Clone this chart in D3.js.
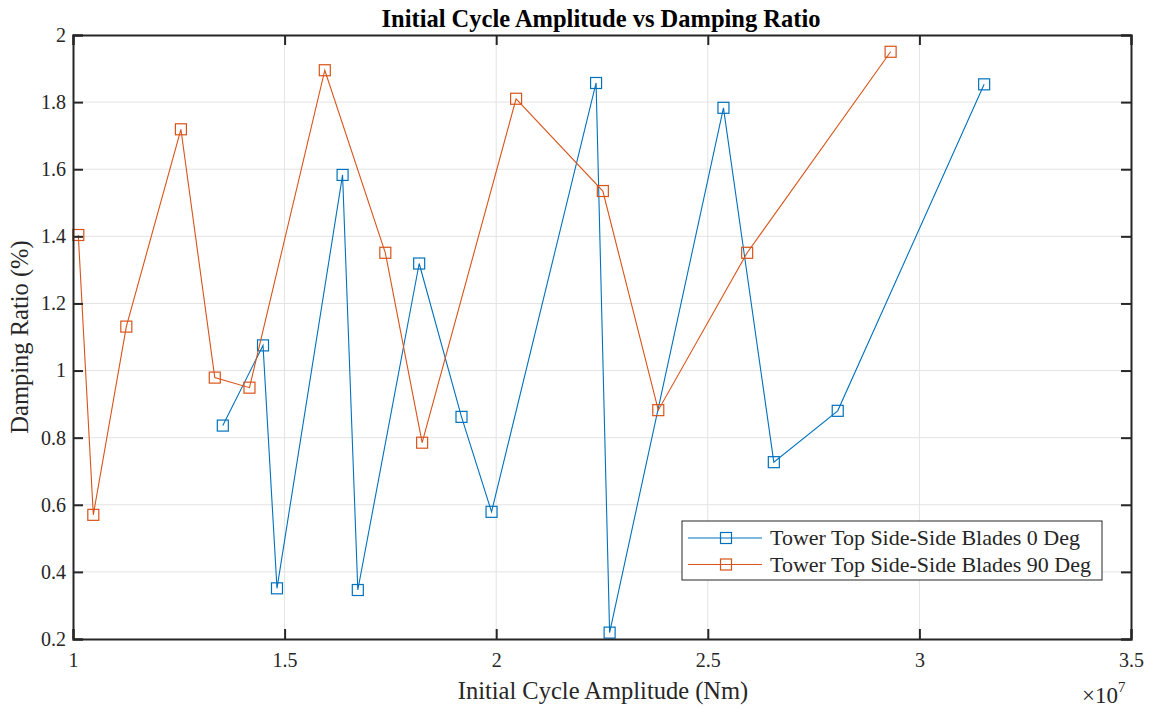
<!DOCTYPE html>
<html><head><meta charset="utf-8">
<script src="https://cdn.jsdelivr.net/npm/d3@7"></script>
<style>body{margin:0;background:#fff}svg{display:block}text{font-family:"Liberation Serif","Times New Roman",serif;fill:#262626}</style>
</head><body>
<script>
// x values in units of 1e7 Nm
const blueX = [1.354,1.449,1.482,1.637,1.673,1.818,1.918,1.989,2.236,2.268,2.537,2.656,2.807,3.153];
const blueY = [0.836,1.075,0.351,1.583,0.346,1.319,0.862,0.579,1.857,0.219,1.783,0.727,0.880,1.853];
const orangeX = [1.0125,1.048,1.126,1.255,1.335,1.417,1.595,1.738,1.825,2.047,2.252,2.383,2.593,2.932];
const orangeY = [1.404,0.570,1.131,1.719,0.979,0.949,1.895,1.351,0.785,1.810,1.535,0.882,1.351,1.950];
const seriesNames = ["Tower Top Side-Side Blades 0 Deg","Tower Top Side-Side Blades 90 Deg"];
const xTicks = [1,1.5,2,2.5,3,3.5];
const yTicks = [0.2,0.4,0.6,0.8,1,1.2,1.4,1.6,1.8,2];
const titleText = "Initial Cycle Amplitude vs Damping Ratio";
const xLabel = "Initial Cycle Amplitude (Nm)";
const yLabel = "Damping Ratio (%)";

const W=1151,H=709;
const L=73,R=1131,T=35,B=639;
const colors=["#0072BD","#D95319"];
const svg=d3.select("body").append("svg").attr("width",W).attr("height",H);
const x=d3.scaleLinear().domain([1,3.5]).range([L,R]);
const y=d3.scaleLinear().domain([0.2,2]).range([B,T]);

// grid
svg.append("g").selectAll("line").data(xTicks.slice(1,-1)).join("line")
 .attr("x1",d=>x(d)).attr("x2",d=>x(d)).attr("y1",T).attr("y2",B)
 .attr("stroke","#e3e3e3").attr("stroke-width",1);
svg.append("g").selectAll("line").data(yTicks.slice(1,-1)).join("line")
 .attr("y1",d=>y(d)).attr("y2",d=>y(d)).attr("x1",L).attr("x2",R)
 .attr("stroke","#e3e3e3").attr("stroke-width",1);

// series
const series=[{xs:blueX,ys:blueY},{xs:orangeX,ys:orangeY}];
const line=d3.line().x(d=>x(d[0])).y(d=>y(d[1]));
series.forEach((s,i)=>{
  const pts=s.xs.map((v,j)=>[v,s.ys[j]]);
  svg.append("path").attr("d",line(pts)).attr("fill","none").attr("stroke",colors[i]).attr("stroke-width",1.1);
  svg.append("g").selectAll("rect").data(pts).join("rect")
   .attr("x",d=>x(d[0])-5.5).attr("y",d=>y(d[1])-5.5).attr("width",11).attr("height",11)
   .attr("fill","none").attr("stroke",colors[i]).attr("stroke-width",1.2);
});

// axes
const ax=svg.append("g");
ax.append("g").attr("transform",`translate(0,${B})`).call(d3.axisBottom(x).tickValues(xTicks).tickSize(-10).tickPadding(14).tickFormat(d3.format("")));
ax.append("g").attr("transform",`translate(0,${T})`).call(d3.axisTop(x).tickValues(xTicks).tickSize(-10).tickFormat(""));
ax.append("g").attr("transform",`translate(${L},0)`).call(d3.axisLeft(y).tickValues(yTicks).tickSize(-10).tickPadding(7).tickFormat(d3.format("")));
ax.append("g").attr("transform",`translate(${R},0)`).call(d3.axisRight(y).tickValues(yTicks).tickSize(-10).tickFormat(""));
ax.selectAll(".domain").attr("stroke","#262626").attr("stroke-width",2);
ax.selectAll(".tick line").attr("stroke","#262626").attr("stroke-width",2);
ax.selectAll(".tick text").attr("font-size",20).attr("fill","#262626").style("font-family","Liberation Serif");

// titles
svg.append("text").attr("x",(L+R)/2-1).attr("y",27).attr("text-anchor","middle").attr("font-size",24.5).attr("font-weight","bold").style("fill","#000").text(titleText);
svg.append("text").attr("x",(L+R)/2+1).attr("y",699).attr("text-anchor","middle").attr("font-size",24.5).text(xLabel);
svg.append("text").attr("transform",`translate(28,${(T+B)/2}) rotate(-90)`).attr("text-anchor","middle").attr("font-size",24.5).text(yLabel);
const ex=svg.append("text").attr("x",1082).attr("y",703).attr("font-size",23);
ex.append("tspan").text("×10");
ex.append("tspan").attr("font-size",15).attr("dy",-11).text("7");

// legend
const lg=svg.append("g");
lg.append("rect").attr("x",682).attr("y",521).attr("width",420).attr("height",59).attr("fill","#fff").attr("stroke","#262626").attr("stroke-width",1);
seriesNames.forEach((n,i)=>{
  const cy=538+i*26.5;
  lg.append("line").attr("x1",688).attr("x2",762).attr("y1",cy).attr("y2",cy).attr("stroke",colors[i]).attr("stroke-width",1.1);
  lg.append("rect").attr("x",726-5.5).attr("y",cy-5.5).attr("width",11).attr("height",11).attr("fill","none").attr("stroke",colors[i]).attr("stroke-width",1.2);
  lg.append("text").attr("x",770).attr("y",cy+7).attr("font-size",22).text(n);
});
</script>
</body></html>
